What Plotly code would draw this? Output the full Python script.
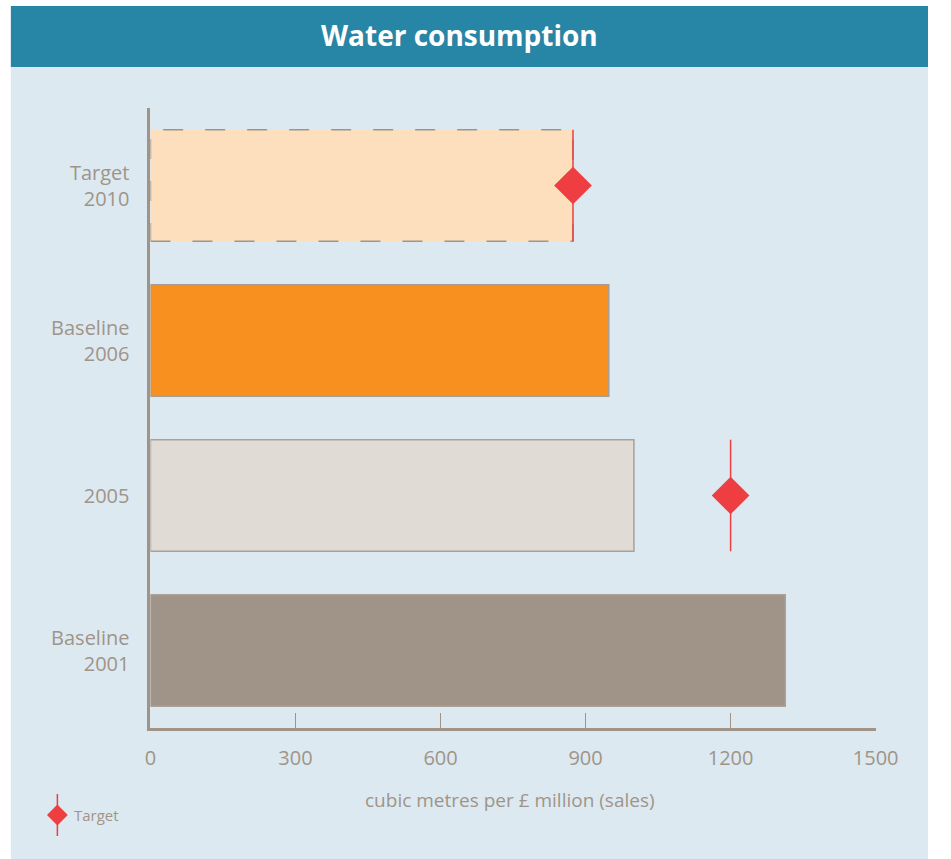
import plotly.graph_objects as go

# ---- data ----
categories = ["Baseline<br>2001", "2005", "Baseline<br>2006", "Target<br>2010"]
values = [1313, 1000, 948, 874]
target_categories = ["2005", "Target<br>2010"]
target_values = [1200, 874]
x_ticks = [0, 300, 600, 900, 1200, 1500]

# ---- styles ----
bar_colors = ["#a09488", "#e0dbd5", "#f7901e", "#fddfbd"]
bar_line_colors = ["#aaa097", "#aaa097", "#a89d93", "rgba(0,0,0,0)"]
GREY = "#a09488"
RED = "#ef3e42"
FONT = "Open Sans"
BAR_W = 0.72
W, H = 951, 859

ypos = list(range(len(categories)))
cat_index = {c: i for i, c in enumerate(categories)}

fig = go.Figure()

fig.add_trace(go.Bar(
    x=values, y=ypos, orientation="h", width=BAR_W,
    marker=dict(color=bar_colors, line=dict(color=bar_line_colors, width=1.5)),
    hoverinfo="skip", showlegend=False,
))

# dashed outline for the target bar (last category)
ti = len(categories) - 1
tv = values[ti]
fig.add_trace(go.Scatter(
    x=[0, tv, tv, 0, 0],
    y=[ti - BAR_W / 2, ti - BAR_W / 2, ti + BAR_W / 2, ti + BAR_W / 2, ti - BAR_W / 2],
    mode="lines", line=dict(color=GREY, width=1.5, dash="20px,22px"),
    hoverinfo="skip", showlegend=False,
))

# target markers with vertical line
fig.add_trace(go.Scatter(
    x=target_values, y=[cat_index[c] for c in target_categories],
    mode="markers",
    marker=dict(symbol="diamond", size=29, color=RED, line=dict(width=0)),
    error_y=dict(type="constant", value=BAR_W / 2, color=RED, thickness=1.5, width=0),
    hoverinfo="skip", showlegend=False,
))

# legend glyph on its own tiny axes
fig.add_trace(go.Scatter(
    x=[0], y=[0], xaxis="x2", yaxis="y2", mode="markers",
    marker=dict(symbol="diamond", size=16, color=RED, line=dict(width=0)),
    error_y=dict(type="constant", value=0.84, color=RED, thickness=1.5, width=0),
    hoverinfo="skip", showlegend=False,
))

def px(x):
    return x / W

def py(y):
    return 1 - y / H

shapes = [
    dict(type="rect", xref="paper", yref="paper", x0=px(5), x1=px(951), y0=py(859), y1=py(67),
         fillcolor="#dce9f1", line=dict(width=0), layer="below"),
    dict(type="rect", xref="paper", yref="paper", x0=px(5), x1=px(951), y0=py(67), y1=py(6),
         fillcolor="#2786a5", line=dict(width=0), layer="below"),
]

annotations = [
    dict(text="<b>Water consumption</b>", x=px(468), y=py(35), xref="paper", yref="paper",
         showarrow=False, xanchor="center", yanchor="middle",
         font=dict(family=FONT, size=28, color="white")),
    dict(text="cubic metres per £ million (sales)", x=px(520), y=py(800), xref="paper", yref="paper",
         showarrow=False, xanchor="center", yanchor="middle",
         font=dict(family=FONT, size=19, color=GREY)),
    dict(text="Target", x=px(68), y=py(815), xref="paper", yref="paper",
         showarrow=False, xanchor="left", yanchor="middle",
         font=dict(family=FONT, size=15, color=GREY)),
]

fig.update_layout(
    width=W, height=H, autosize=False,
    margin=dict(l=0, r=0, t=0, b=0, pad=0),
    paper_bgcolor="white", plot_bgcolor="rgba(0,0,0,0)",
    shapes=shapes, annotations=annotations,
    xaxis=dict(
        domain=[px(149), px(897)], range=[0, 1500],
        tickvals=x_ticks, ticktext=[str(t) for t in x_ticks],
        ticks="inside", ticklen=15, tickwidth=1, tickcolor=GREY,
        showline=True, linecolor=GREY, linewidth=3,
        showgrid=False, zeroline=False,
        tickfont=dict(family=FONT, size=20, color=GREY),
        ticklabelstandoff=10,
    ),
    yaxis=dict(
        domain=[py(728), py(108)], range=[-0.5, len(categories) - 0.5],
        tickvals=ypos, ticktext=categories,
        ticks="", showline=True, linecolor=GREY, linewidth=3,
        showgrid=False, zeroline=False,
        tickfont=dict(family=FONT, size=20, color=GREY),
        ticklabelstandoff=14,
    ),
    xaxis2=dict(domain=[px(40), px(66)], range=[-1, 1], visible=False, anchor="y2", fixedrange=True),
    yaxis2=dict(domain=[py(840), py(790)], range=[-1, 1], visible=False, anchor="x2", fixedrange=True),
    showlegend=False,
)

fig.write_html("out.html")
